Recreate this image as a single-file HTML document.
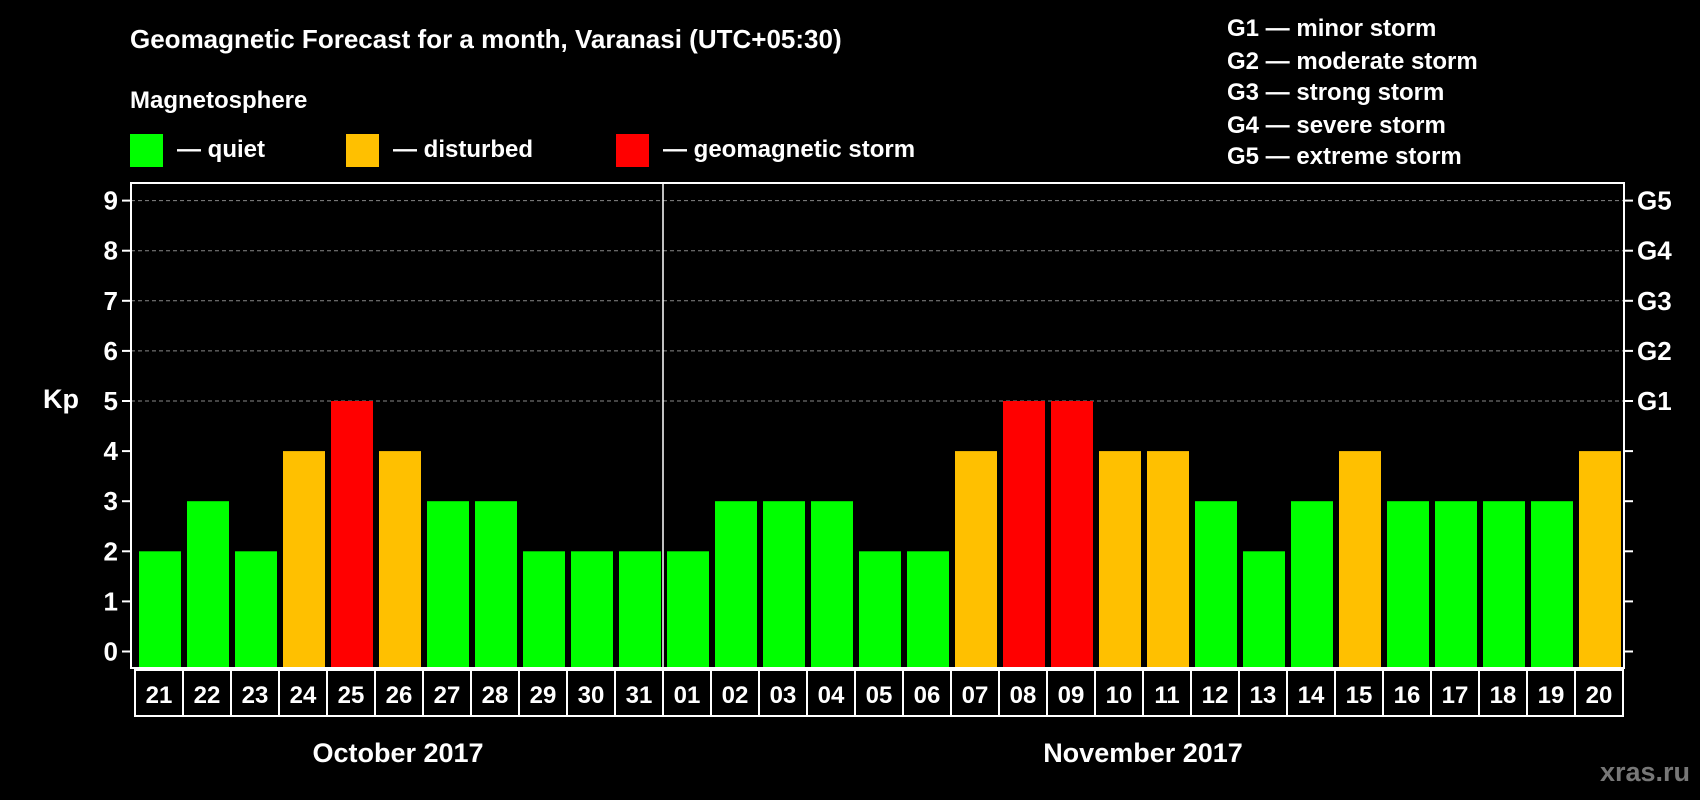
<!DOCTYPE html>
<html><head><meta charset="utf-8"><style>
html,body{margin:0;padding:0;background:#000;width:1700px;height:800px;overflow:hidden}
text{font-family:"Liberation Sans",Arial,sans-serif;font-weight:bold;fill:#fff}
</style></head><body>
<svg id="c" width="1700" height="800" xmlns="http://www.w3.org/2000/svg">
<text x="130" y="48" font-size="26">Geomagnetic Forecast for a month, Varanasi (UTC+05:30)</text>
<text x="130" y="108" font-size="24">Magnetosphere</text>
<rect x="130" y="134" width="33" height="33" fill="#00ff00"/>
<text x="177" y="157" font-size="24">— quiet</text>
<rect x="346" y="134" width="33" height="33" fill="#ffc000"/>
<text x="393" y="157" font-size="24">— disturbed</text>
<rect x="616" y="134" width="33" height="33" fill="#ff0000"/>
<text x="663" y="157" font-size="24">— geomagnetic storm</text>
<g font-size="24">
<text x="1227" y="36">G1 — minor storm</text>
<text x="1227" y="69">G2 — moderate storm</text>
<text x="1227" y="100">G3 — strong storm</text>
<text x="1227" y="133">G4 — severe storm</text>
<text x="1227" y="164">G5 — extreme storm</text>
</g>
<text x="43" y="408" font-size="27">Kp</text>
<text x="398" y="762" font-size="27" text-anchor="middle">October 2017</text>
<text x="1143" y="762" font-size="27" text-anchor="middle">November 2017</text>
<text x="1690" y="781" font-size="27" text-anchor="end" style="fill:#777">xras.ru</text>
<g id="plot"></g>
</svg>
<script>
const days=["21","22","23","24","25","26","27","28","29","30","31","01","02","03","04","05","06","07","08","09","10","11","12","13","14","15","16","17","18","19","20"];
const kp=[2,3,2,4,5,4,3,3,2,2,2,2,3,3,3,2,2,4,5,5,4,4,3,2,3,4,3,3,3,3,4];
const yTicks=[0,1,2,3,4,5,6,7,8,9];
const gLabels=["G1","G2","G3","G4","G5"];
const NS="http://www.w3.org/2000/svg";
const g=document.getElementById('plot');
const L=131,R=1624,T=183,B=668,x0=135,pitch=48,cellT=670,cellB=716;
const y=v=>651.5-v*50.1;
const x=i=>x0+i*pitch;
function mk(t,a){const e=document.createElementNS(NS,t);for(const k in a)e.setAttribute(k,a[k]);g.appendChild(e);return e;}
yTicks.forEach(v=>{
  if(v>=5){const l=mk('line',{x1:L,x2:R,y1:y(v),y2:y(v),stroke:'#888','stroke-dasharray':'4,3','stroke-width':1});
  
  }
  const tl=mk('line',{x1:L-9,x2:L,y1:y(v),y2:y(v),stroke:'#fff','stroke-width':2});
  
  
  const tr=mk('line',{x1:R,x2:R+9,y1:y(v),y2:y(v),stroke:'#fff','stroke-width':2});
  
  
  const t=mk('text',{x:L-13,y:y(v)+9,'font-size':26,'text-anchor':'end'});t.textContent=v;
  
  
});
gLabels.forEach((s,i)=>{const t=mk('text',{x:R+13,y:y(5+i)+9,'font-size':26});t.textContent=s;
  
  });
kp.forEach((v,i)=>{
  const col=v>=5?'#ff0000':(v>=4?'#ffc000':'#00ff00');
  const b=mk('rect',{x:x(i)+4,y:y(v),width:42,height:B-y(v),fill:col});
  
  
  const c=mk('rect',{x:x(i),y:cellT,width:pitch,height:cellB-cellT,fill:'none',stroke:'#fff','stroke-width':2});
  
  
  const t=mk('text',{x:x(i)+pitch/2,y:cellT+33,'font-size':24,'text-anchor':'middle'});t.textContent=days[i];
  
  
});
const fr=mk('rect',{x:L,y:T,width:R-L,height:B-T,fill:'none',stroke:'#fff','stroke-width':2});


const mi=days.indexOf("01");
const d=mk('line',{x1:x(mi),x2:x(mi),y1:T,y2:B,stroke:'#fff','stroke-width':1.5});


</script>
</body></html>
